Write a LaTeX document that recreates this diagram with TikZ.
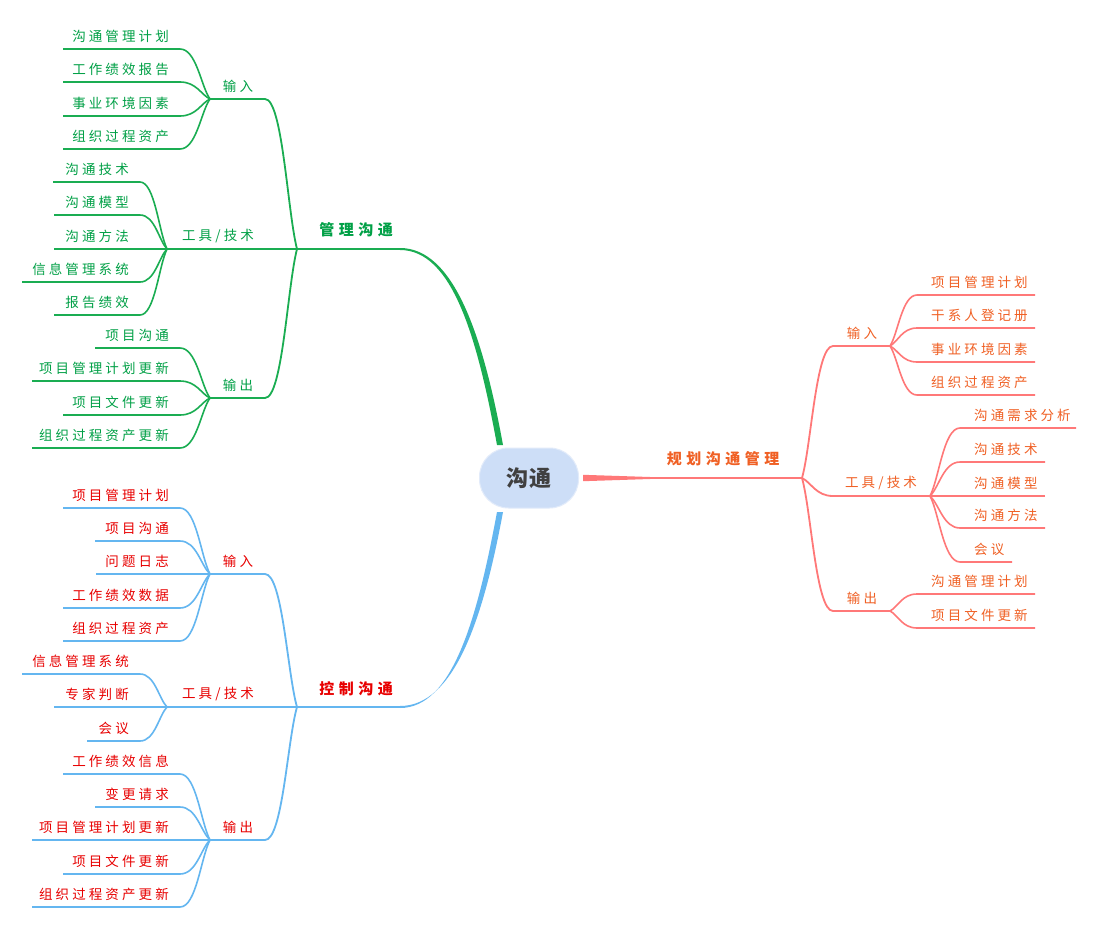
\documentclass[tikz,border=0pt]{standalone}
\usepackage{fontspec}
\usetikzlibrary{calc}
\newfontfamily\leaffont{Noto Sans CJK SC}[LetterSpace=23]
\newfontfamily\headfont{Noto Sans CJK SC}[LetterSpace=30]
\newfontfamily\rootfont{Noto Sans CJK SC}[LetterSpace=4]
\definecolor{gline}{RGB}{26,173,82}
\definecolor{gtext}{RGB}{0,160,70}
\definecolor{bline}{RGB}{100,182,240}
\definecolor{rtext}{RGB}{232,0,0}
\definecolor{pline}{RGB}{255,120,120}
\definecolor{otext}{RGB}{240,96,36}
\definecolor{rootfill}{RGB}{205,222,247}
\definecolor{rootdraw}{RGB}{226,235,250}
\definecolor{roottext}{RGB}{64,64,64}
\tikzset{
  leaf/.style={font=\leaffont\fontsize{13.5}{15}\selectfont, inner sep=0pt},
  blabel/.style={font=\leaffont\fontsize{13.5}{15}\selectfont, inner sep=0pt},
  head/.style={font=\headfont\bfseries\fontsize{15}{18}\selectfont, inner sep=0pt},
  rootbox/.style={fill=rootfill, draw=rootdraw, line width=1pt, rounded corners=29pt,
    minimum width=99pt, minimum height=60pt, inner sep=0pt, text=roottext,
    font=\rootfont\bfseries\fontsize{22}{26}\selectfont},
  leafline/.style={line width=1.6pt},
  brline/.style={line width=1.8pt},
}
% left leaf: name, Lx, Rx, y, junction, text
\newcommand\lleaf[6]{%
  \coordinate (#1l) at (#2,#4);
  \coordinate (#1r) at (#3,#4);
  \node[leaf, tc, anchor=east] (#1) at ($(#1r)+(-11,-13)$) {#6};
  \draw[leafline, lc] let \p1=(#1r), \p2=(#5) in (#1l) -- (#1r)
    .. controls ({\x1+0.55*(\x2-\x1)},\y1) and ({\x2-0.3*(\x2-\x1)},{\y2+0.25*(\y1-\y2)}) .. (#5);
}
% right leaf: name, Lx, Rx, y, junction, text
\newcommand\rleaf[6]{%
  \coordinate (#1l) at (#2,#4);
  \coordinate (#1r) at (#3,#4);
  \node[leaf, tc, anchor=west] (#1) at ($(#1l)+(14,-13)$) {#6};
  \draw[leafline, lc] let \p1=(#1l), \p2=(#5) in (#1r) -- (#1l)
    .. controls ({\x1+0.55*(\x2-\x1)},\y1) and ({\x2-0.3*(\x2-\x1)},{\y2+0.25*(\y1-\y2)}) .. (#5);
}
% branch: name, jx, sx, y, parent, labelx, text
\newcommand\branch[7]{%
  \coordinate (#1j) at (#2,#4);
  \coordinate (#1s) at (#3,#4);
  \node[blabel, tc] (#1) at ($(#6,#4)+(0,-13)$) {#7};
  \draw[brline, lc] let \p1=(#1s), \p2=(#5) in (#1j) -- (#1s)
    .. controls ({\x1+0.55*(\x2-\x1)},\y1) and ({\x2-0.3*(\x2-\x1)},{\y2+0.25*(\y1-\y2)}) .. (#5);
}
\begin{document}
\begin{tikzpicture}[x=1pt,y=-1pt]
\useasboundingbox (0,0) rectangle (1097,929);
\fill[white] (0,0) rectangle (1097,929);

% ---------- root ----------
\node[rootbox] (root) at (529,478) {沟通};

% ---------- green: 管理沟通 ----------
\begin{scope}[lc/.style={draw=gline}, tc/.style={text=gtext}]
\coordinate (gJ) at (297,249);
\coordinate (gT) at (400,249);
\coordinate (gE) at (500,445);
\draw[brline, lc] (gJ) -- (gT);
\fill[gline] ($(gT)+(0,-1)$) .. controls (454,248) and (483,336) .. ($(gE)+(3,0)$)
  -- ($(gE)+(-3,0)$) .. controls (477,336) and (452,250) .. ($(gT)+(0,1)$) -- cycle;
\node[head, tc] (gLab) at (356,230) {管理沟通};

\branch{gI}{210}{265}{99}{gJ}{238}{输入}
\lleaf{gI1}{63}{180}{49}{gIj}{沟通管理计划}
\lleaf{gI2}{63}{180}{82}{gIj}{工作绩效报告}
\lleaf{gI3}{63}{180}{116}{gIj}{事业环境因素}
\lleaf{gI4}{63}{180}{149}{gIj}{组织过程资产}

\branch{gT}{167}{297}{249}{gJ}{218}{工具/技术}
\lleaf{gT1}{53}{140}{182}{gTj}{沟通技术}
\lleaf{gT2}{54}{140}{215}{gTj}{沟通模型}
\lleaf{gT3}{54}{140}{249}{gTj}{沟通方法}
\lleaf{gT4}{22}{140}{282}{gTj}{信息管理系统}
\lleaf{gT5}{54}{140}{315}{gTj}{报告绩效}

\branch{gO}{210}{265}{398}{gJ}{238}{输出}
\lleaf{gO1}{95}{180}{348}{gOj}{项目沟通}
\lleaf{gO2}{32}{180}{381}{gOj}{项目管理计划更新}
\lleaf{gO3}{63}{180}{415}{gOj}{项目文件更新}
\lleaf{gO4}{32}{180}{448}{gOj}{组织过程资产更新}
\end{scope}

% ---------- blue: 控制沟通 ----------
\begin{scope}[lc/.style={draw=bline}, tc/.style={text=rtext}]
\coordinate (bJ) at (297,707);
\coordinate (bT) at (400,707);
\coordinate (bE) at (500,512);
\draw[brline, lc] (bJ) -- (bT);
\fill[bline] ($(bT)+(0,-1)$) .. controls (454,706) and (483,620) .. ($(bE)+(3,0)$)
  -- ($(bE)+(-3,0)$) .. controls (477,620) and (452,708) .. ($(bT)+(0,1)$) -- cycle;
\node[head, tc] (bLab) at (356,689) {控制沟通};

\branch{bI}{210}{265}{574}{bJ}{238}{输入}
\lleaf{bI1}{63}{180}{508}{bIj}{项目管理计划}
\lleaf{bI2}{95}{180}{541}{bIj}{项目沟通}
\lleaf{bI3}{96}{180}{574}{bIj}{问题日志}
\lleaf{bI4}{63}{180}{608}{bIj}{工作绩效数据}
\lleaf{bI5}{63}{180}{641}{bIj}{组织过程资产}

\branch{bT}{167}{297}{707}{bJ}{218}{工具/技术}
\lleaf{bT1}{22}{140}{674}{bTj}{信息管理系统}
\lleaf{bT2}{54}{140}{707}{bTj}{专家判断}
\lleaf{bT3}{87}{140}{741}{bTj}{会议}

\branch{bO}{210}{265}{840}{bJ}{238}{输出}
\lleaf{bO1}{63}{180}{774}{bOj}{工作绩效信息}
\lleaf{bO2}{95}{180}{807}{bOj}{变更请求}
\lleaf{bO3}{32}{180}{840}{bOj}{项目管理计划更新}
\lleaf{bO4}{63}{180}{874}{bOj}{项目文件更新}
\lleaf{bO5}{32}{180}{907}{bOj}{组织过程资产更新}
\end{scope}

% ---------- red: 规划沟通管理 ----------
\begin{scope}[lc/.style={draw=pline}, tc/.style={text=otext}]
\coordinate (rJ) at (802,478);
\coordinate (rS) at (583,478);
\coordinate (rT) at (650,478);
\draw[brline, lc] (rT) -- (rJ);
\fill[pline] ($(rS)+(0,-3.2)$) -- ($(rT)+(0,-1)$) -- ($(rT)+(0,1)$) -- ($(rS)+(0,3.2)$) -- cycle;
\node[head, tc] (rLab) at (723,459) {规划沟通管理};

\branch{rI}{890}{833}{346}{rJ}{862}{输入}
\rleaf{rI1}{917}{1035}{295}{rIj}{项目管理计划}
\rleaf{rI2}{917}{1035}{328}{rIj}{干系人登记册}
\rleaf{rI3}{917}{1035}{362}{rIj}{事业环境因素}
\rleaf{rI4}{917}{1035}{395}{rIj}{组织过程资产}

\branch{rT}{930}{833}{496}{rJ}{881}{工具/技术}
\rleaf{rT1}{960}{1076}{428}{rTj}{沟通需求分析}
\rleaf{rT2}{960}{1045}{462}{rTj}{沟通技术}
\rleaf{rT3}{960}{1045}{496}{rTj}{沟通模型}
\rleaf{rT4}{960}{1045}{528}{rTj}{沟通方法}
\rleaf{rT5}{960}{1012}{562}{rTj}{会议}

\branch{rO}{890}{833}{611}{rJ}{862}{输出}
\rleaf{rO1}{917}{1035}{594}{rOj}{沟通管理计划}
\rleaf{rO2}{917}{1035}{628}{rOj}{项目文件更新}
\end{scope}
\end{tikzpicture}
\end{document}
